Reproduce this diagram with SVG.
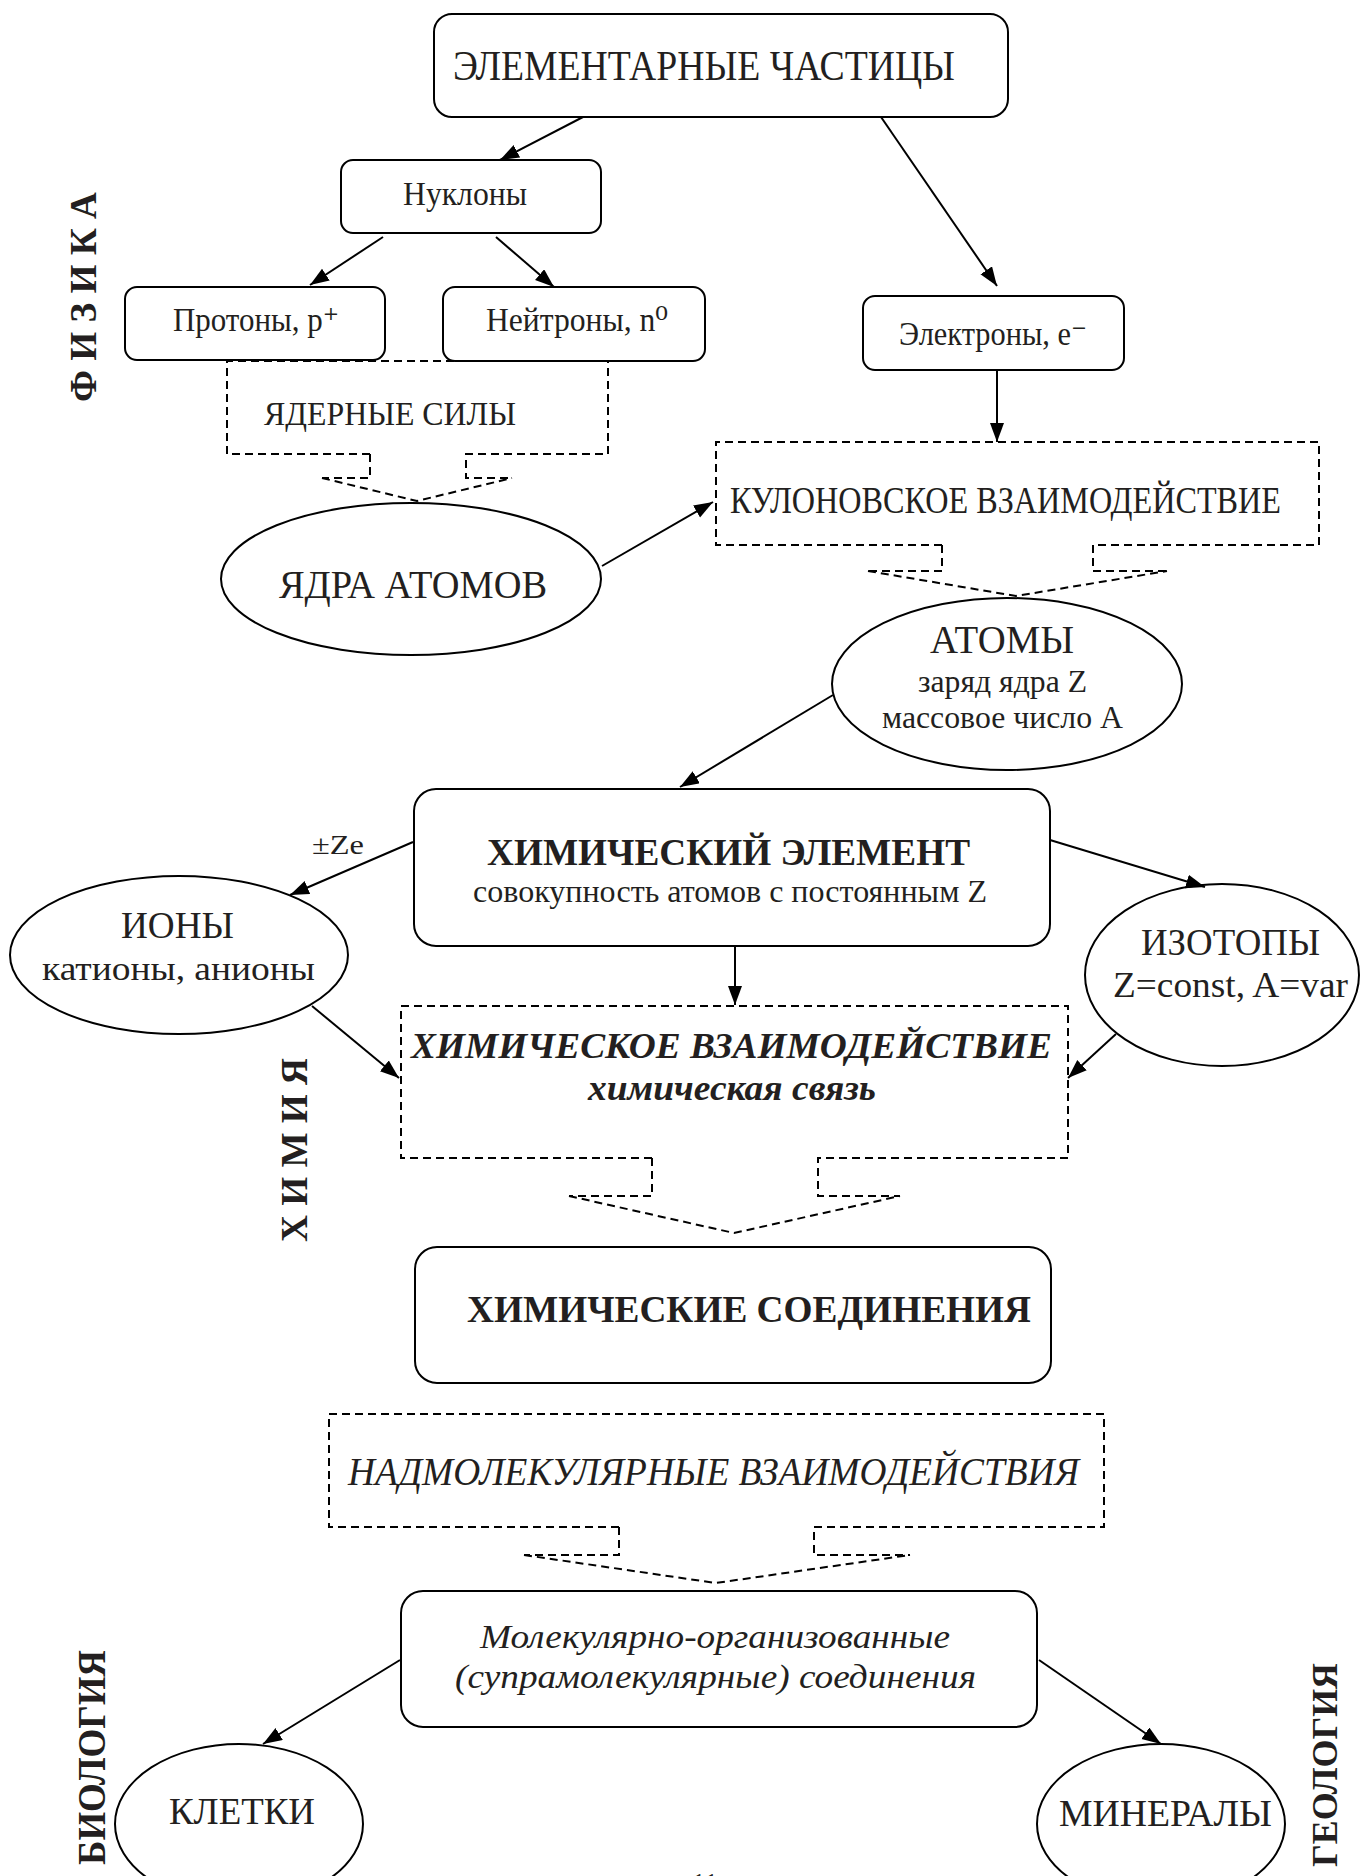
<svg xmlns="http://www.w3.org/2000/svg" width="1363" height="1876" viewBox="0 0 1363 1876">
<style>
text{font-family:"Liberation Serif","Times New Roman","DejaVu Serif",serif;fill:#231f20}
.box{fill:none;stroke:#000;stroke-width:2}
.dash{fill:none;stroke:#000;stroke-width:2;stroke-dasharray:8 5}
.conn{fill:none;stroke:#000;stroke-width:2;marker-end:url(#arr)}
.b{font-weight:bold}
.i{font-style:italic}
</style>
<defs>
<marker id="arr" markerUnits="userSpaceOnUse" markerWidth="22" markerHeight="16" refX="19" refY="7" orient="auto">
<path d="M0,0 L19,7 L0,14 z" fill="#000"/>
</marker>
</defs>
<rect width="1363" height="1876" fill="#fff"/>

<g id="labels">
<text class="b" transform="translate(96,402) rotate(-90)" font-size="38" textLength="210" lengthAdjust="spacingAndGlyphs">Ф И З И К А</text>
<text class="b" transform="translate(307,1242) rotate(-90)" font-size="37" textLength="184" lengthAdjust="spacingAndGlyphs">Х И М И Я</text>
<text class="b" transform="translate(105,1865) rotate(-90)" font-size="40" textLength="215" lengthAdjust="spacingAndGlyphs">БИОЛОГИЯ</text>
<text class="b" transform="translate(1337,1867) rotate(-90)" font-size="36" textLength="204" lengthAdjust="spacingAndGlyphs">ГЕОЛОГИЯ</text>
<text x="312" y="854" font-size="28" textLength="52" lengthAdjust="spacingAndGlyphs">±Ze</text>
<text x="692" y="1892" font-size="28" textLength="26" lengthAdjust="spacingAndGlyphs">11</text>
</g>

<g id="n-elem">
<rect class="box" x="434" y="14" width="574" height="103" rx="18"/>
<text x="453" y="80" font-size="42" textLength="502" lengthAdjust="spacingAndGlyphs">ЭЛЕМЕНТАРНЫЕ ЧАСТИЦЫ</text>
</g>
<g id="n-nukl">
<rect class="box" x="341" y="160" width="260" height="73" rx="12"/>
<text x="403" y="205" font-size="33" textLength="124" lengthAdjust="spacingAndGlyphs">Нуклоны</text>
</g>
<g id="n-prot">
<rect class="box" x="125" y="287" width="260" height="73" rx="12"/>
<text x="173" y="331" font-size="33" textLength="166" lengthAdjust="spacingAndGlyphs">Протоны, p⁺</text>
</g>
<g id="n-neit">
<rect class="box" x="443" y="287" width="262" height="74" rx="12"/>
<text x="486" y="331" font-size="33" textLength="182" lengthAdjust="spacingAndGlyphs">Нейтроны, n⁰</text>
</g>
<g id="n-elec">
<rect class="box" x="863" y="296" width="261" height="74" rx="12"/>
<text x="899" y="345" font-size="33" textLength="188" lengthAdjust="spacingAndGlyphs">Электроны, е⁻</text>
</g>
<g id="n-yader">
<path class="dash" d="M370,454 L227,454 L227,361 L608,361 L608,454 L466,454 L466,478 L512,478 M370,454 L370,478 L322,478 M322,478 L417,501 L512,478"/>
<text x="264" y="425" font-size="33" textLength="252" lengthAdjust="spacingAndGlyphs">ЯДЕРНЫЕ СИЛЫ</text>
</g>
<g id="n-yadra">
<ellipse class="box" cx="411" cy="579" rx="190" ry="76"/>
<text x="279" y="598" font-size="40" textLength="268" lengthAdjust="spacingAndGlyphs">ЯДРА АТОМОВ</text>
</g>
<g id="n-kulon">
<path class="dash" d="M942,545 L716,545 L716,442 L1319,442 L1319,545 L1093,545 L1093,571 L1167,571 M942,545 L942,571 L868,571 M868,571 L1016,596 L1167,571"/>
<text x="730" y="513" font-size="37" textLength="551" lengthAdjust="spacingAndGlyphs">КУЛОНОВСКОЕ ВЗАИМОДЕЙСТВИЕ</text>
</g>
<g id="n-atomy">
<ellipse class="box" cx="1007" cy="684" rx="175" ry="86"/>
<text x="930" y="653" font-size="40" textLength="144" lengthAdjust="spacingAndGlyphs">АТОМЫ</text>
<text x="918" y="692" font-size="32" textLength="169" lengthAdjust="spacingAndGlyphs">заряд ядра Z</text>
<text x="882" y="728" font-size="32" textLength="241" lengthAdjust="spacingAndGlyphs">массовое число А</text>
</g>
<g id="n-himel">
<rect class="box" x="414" y="789" width="636" height="157" rx="22"/>
<text class="b" x="487" y="865" font-size="38" textLength="483" lengthAdjust="spacingAndGlyphs">ХИМИЧЕСКИЙ ЭЛЕМЕНТ</text>
<text x="473" y="902" font-size="32" textLength="514" lengthAdjust="spacingAndGlyphs">совокупность атомов с постоянным Z</text>
</g>
<g id="n-iony">
<ellipse class="box" cx="179" cy="955" rx="169" ry="79"/>
<text x="121" y="938" font-size="37" textLength="113" lengthAdjust="spacingAndGlyphs">ИОНЫ</text>
<text x="42" y="980" font-size="34" textLength="273" lengthAdjust="spacingAndGlyphs">катионы, анионы</text>
</g>
<g id="n-izotopy">
<ellipse class="box" cx="1222" cy="975" rx="137" ry="91"/>
<text x="1141" y="955" font-size="37" textLength="179" lengthAdjust="spacingAndGlyphs">ИЗОТОПЫ</text>
<text x="1113" y="997" font-size="35" textLength="235" lengthAdjust="spacingAndGlyphs">Z=const, A=var</text>
</g>
<g id="n-himvz">
<path class="dash" d="M652,1158 L401,1158 L401,1006 L1068,1006 L1068,1158 L818,1158 L818,1196 L900,1196 M652,1158 L652,1196 L569,1196 M569,1196 L734,1233 L900,1196"/>
<text class="b i" x="411" y="1058" font-size="35" textLength="641" lengthAdjust="spacingAndGlyphs">ХИМИЧЕСКОЕ ВЗАИМОДЕЙСТВИЕ</text>
<text class="b i" x="588" y="1100" font-size="35" textLength="288" lengthAdjust="spacingAndGlyphs">химическая связь</text>
</g>
<g id="n-himsoed">
<rect class="box" x="415" y="1247" width="636" height="136" rx="22"/>
<text class="b" x="467" y="1322" font-size="38" textLength="564" lengthAdjust="spacingAndGlyphs">ХИМИЧЕСКИЕ СОЕДИНЕНИЯ</text>
</g>
<g id="n-nadmol">
<path class="dash" d="M619,1527 L329,1527 L329,1414 L1104,1414 L1104,1527 L814,1527 L814,1555 L910,1555 M619,1527 L619,1555 L524,1555 M524,1555 L716,1583 L910,1555"/>
<text class="i" x="348" y="1485" font-size="40" textLength="731" lengthAdjust="spacingAndGlyphs">НАДМОЛЕКУЛЯРНЫЕ ВЗАИМОДЕЙСТВИЯ</text>
</g>
<g id="n-mol">
<rect class="box" x="401" y="1591" width="636" height="136" rx="22"/>
<text class="i" x="480" y="1648" font-size="33" textLength="470" lengthAdjust="spacingAndGlyphs">Молекулярно-организованные</text>
<text class="i" x="455" y="1688" font-size="33" textLength="521" lengthAdjust="spacingAndGlyphs">(супрамолекулярные) соединения</text>
</g>
<g id="n-kletki">
<ellipse class="box" cx="239" cy="1824" rx="124" ry="80"/>
<text x="169" y="1824" font-size="37" textLength="146" lengthAdjust="spacingAndGlyphs">КЛЕТКИ</text>
</g>
<g id="n-miner">
<ellipse class="box" cx="1161" cy="1824" rx="124" ry="80"/>
<text x="1059" y="1826" font-size="37" textLength="213" lengthAdjust="spacingAndGlyphs">МИНЕРАЛЫ</text>
</g>

<g id="connectors">
<line class="conn" x1="583" y1="117" x2="500" y2="160"/>
<line class="conn" x1="383" y1="237" x2="310" y2="285"/>
<line class="conn" x1="496" y1="237" x2="554" y2="287"/>
<line class="conn" x1="881" y1="117" x2="997" y2="286"/>
<line class="conn" x1="997" y1="370" x2="997" y2="442"/>
<line class="conn" x1="602" y1="566" x2="713" y2="502"/>
<line class="conn" x1="833" y1="695" x2="680" y2="787"/>
<line class="conn" x1="413" y1="842" x2="290" y2="895"/>
<line class="conn" x1="735" y1="946" x2="735" y2="1005"/>
<line class="conn" x1="1050" y1="840" x2="1205" y2="887"/>
<line class="conn" x1="312" y1="1006" x2="399" y2="1078"/>
<line class="conn" x1="1116" y1="1034" x2="1068" y2="1078"/>
<line class="conn" x1="400" y1="1660" x2="263" y2="1744"/>
<line class="conn" x1="1039" y1="1660" x2="1161" y2="1744"/>
</g>
</svg>
